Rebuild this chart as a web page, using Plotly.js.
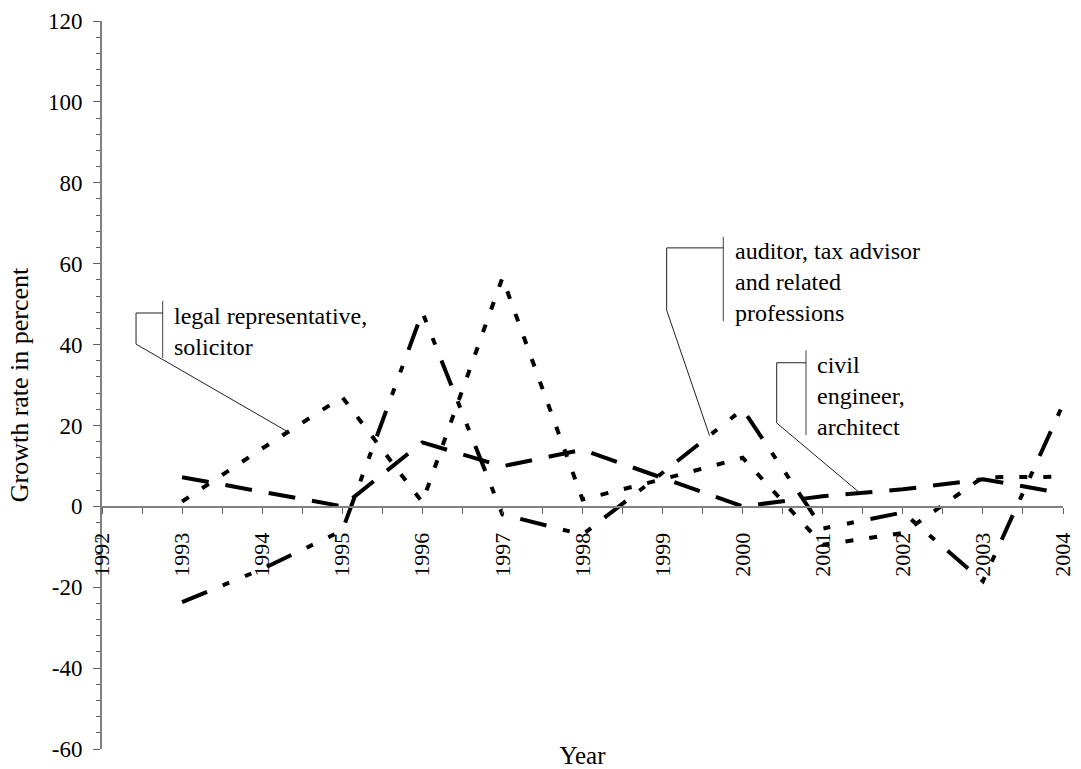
<!DOCTYPE html>
<html>
<head>
<meta charset="utf-8">
<script src="https://cdn.plot.ly/plotly-3.0.1.min.js"></script>
<style>
html,body{margin:0;padding:0;background:#fff;}
#chart{width:1081px;height:769px;}
</style>
</head>
<body>
<div id="chart"></div>
<script>
// ---- data ----
const years = [1993, 1994, 1995, 1996, 1997, 1998, 1999, 2000, 2001, 2002, 2003, 2004];
const legalRepresentative = [1.2, 14.3, 27, 1, 56.5, 1.7, 6.7, 12, -9.5, -6.6, 7.2, 7.3];
const auditorTaxAdvisor = [-23.7, -15.5, -6, 48, -2, -7, 8.3, 24, -5.5, -1.5, -18.5, 25.2];
const civilEngineer = [7.2, 3.7, 0, 15.8, 9.9, 14, 7, 0, 2.5, 4.2, 6.7, 3.2];

const xTickVals = [1992, 1993, 1994, 1995, 1996, 1997, 1998, 1999, 2000, 2001, 2002, 2003, 2004];
const xTickText = ['1992', '1993', '1994', '1995', '1996', '1997', '1998', '1999', '2000', '2001', '2002', '2003', '2004'];
const yTickVals = [-60, -40, -20, 0, 20, 40, 60, 80, 100, 120];
const yTickText = ['-60', '-40', '-20', '0', '20', '40', '60', '80', '100', '120'];

const seriesNames = ['legal representative, solicitor', 'auditor, tax advisor and related professions', 'civil engineer, architect'];

// value of a series at a fractional year (linear between points)
function valueAt(xs, ys, x) {
  for (let i = 0; i < xs.length - 1; i++) {
    if (x >= xs[i] && x <= xs[i + 1]) {
      const t = (x - xs[i]) / (xs[i + 1] - xs[i]);
      return ys[i] + t * (ys[i + 1] - ys[i]);
    }
  }
  return ys[ys.length - 1];
}

const FONT = '"Liberation Serif", serif';

const traces = [
  {x: years, y: civilEngineer, name: seriesNames[2], type: 'scatter', mode: 'lines',
   line: {color: '#000', width: 4, dash: '27px,17px'}},
  {x: years, y: legalRepresentative, name: seriesNames[0], type: 'scatter', mode: 'lines',
   line: {color: '#000', width: 4, dash: '8px,16px'}},
  {x: years, y: auditorTaxAdvisor, name: seriesNames[1], type: 'scatter', mode: 'lines',
   line: {color: '#000', width: 4, dash: '27px,17px,7px,17px,7px,17px'}}
];

// callouts: text block, bracket and leader to the series
const callouts = [
  {text: 'legal representative,<br>solicitor', tx: 1992.874, ty: 43.3,
   barX: 1992.758, barTop: 50.8, barBot: 36.7, elbowX: 1992.425, elbowTop: 47.8, elbowBot: 40.1,
   targetX: 1994.323, series: legalRepresentative},
  {text: 'auditor, tax advisor<br>and related<br>professions', tx: 1999.879, ty: 55.4,
   barX: 1999.758, barTop: 66.6, barBot: 45.8, elbowX: 1999.051, elbowTop: 63.9, elbowBot: 48.5,
   targetX: 1999.586, series: auditorTaxAdvisor},
  {text: 'civil<br>engineer,<br>architect', tx: 2000.903, ty: 27.3,
   barX: 2000.791, barTop: 38.6, barBot: 17.6, elbowX: 2000.425, elbowTop: 35.5, elbowBot: 20.6,
   targetX: 2001.465, series: civilEngineer}
];

const shapes = [];
const annotations = [];
callouts.forEach(c => {
  shapes.push({type: 'line', xref: 'x', yref: 'y', x0: c.barX, x1: c.barX, y0: c.barTop, y1: c.barBot,
               line: {color: '#404040', width: 1}});
  const ty = valueAt(years, c.series, c.targetX);
  shapes.push({type: 'path', xref: 'x', yref: 'y',
               path: `M ${c.barX},${c.elbowTop} L ${c.elbowX},${c.elbowTop} L ${c.elbowX},${c.elbowBot} L ${c.targetX},${ty}`,
               line: {color: '#202020', width: 1}});
  annotations.push({xref: 'x', yref: 'y', x: c.tx, y: c.ty, xanchor: 'left', yanchor: 'middle', align: 'left',
                    showarrow: false, text: c.text, font: {family: FONT, size: 24, color: '#000'}});
});

const layout = {
  width: 1081, height: 769,
  margin: {l: 102, r: 18, t: 21, b: 20, pad: 0},
  paper_bgcolor: '#fff', plot_bgcolor: '#fff',
  showlegend: false,
  font: {family: FONT, color: '#000', size: 22},
  xaxis: {
    range: [1992, 2004], tickmode: 'array', tickvals: xTickVals, ticktext: xTickText,
    tickangle: -90, ticks: 'outside', ticklen: 6, tickwidth: 1, tickcolor: '#606060',
    ticklabelstandoff: 10,
    showline: true, linecolor: '#808080', linewidth: 1.5,
    anchor: 'free', position: 1 / 3, showgrid: false, zeroline: false,
    minor: {tickmode: 'linear', tick0: 1992, dtick: 0.5, ticks: 'outside', ticklen: 6, tickwidth: 1, tickcolor: '#606060', showgrid: false},
    tickfont: {family: FONT, size: 22, color: '#000'},
    title: {text: 'Year', font: {family: FONT, size: 25, color: '#000'}, standoff: 176},
    fixedrange: true
  },
  yaxis: {
    range: [-60, 120], tickmode: 'array', tickvals: yTickVals, ticktext: yTickText,
    ticks: 'outside', ticklen: 7, tickwidth: 1, tickcolor: '#606060', ticklabelstandoff: 6,
    showline: true, linecolor: '#808080', linewidth: 2,
    showgrid: false, zeroline: false,
    minor: {tickmode: 'linear', tick0: -60, dtick: 4, ticks: 'outside', ticklen: 4, tickwidth: 1, tickcolor: '#606060', showgrid: false},
    tickfont: {family: FONT, size: 23, color: '#000'},
    title: {text: 'Growth rate in percent', font: {family: FONT, size: 26, color: '#000'}, standoff: 12},
    fixedrange: true
  },
  shapes: shapes,
  annotations: annotations
};

Plotly.newPlot('chart', traces, layout, {staticPlot: true, displayModeBar: false});
</script>
</body>
</html>
